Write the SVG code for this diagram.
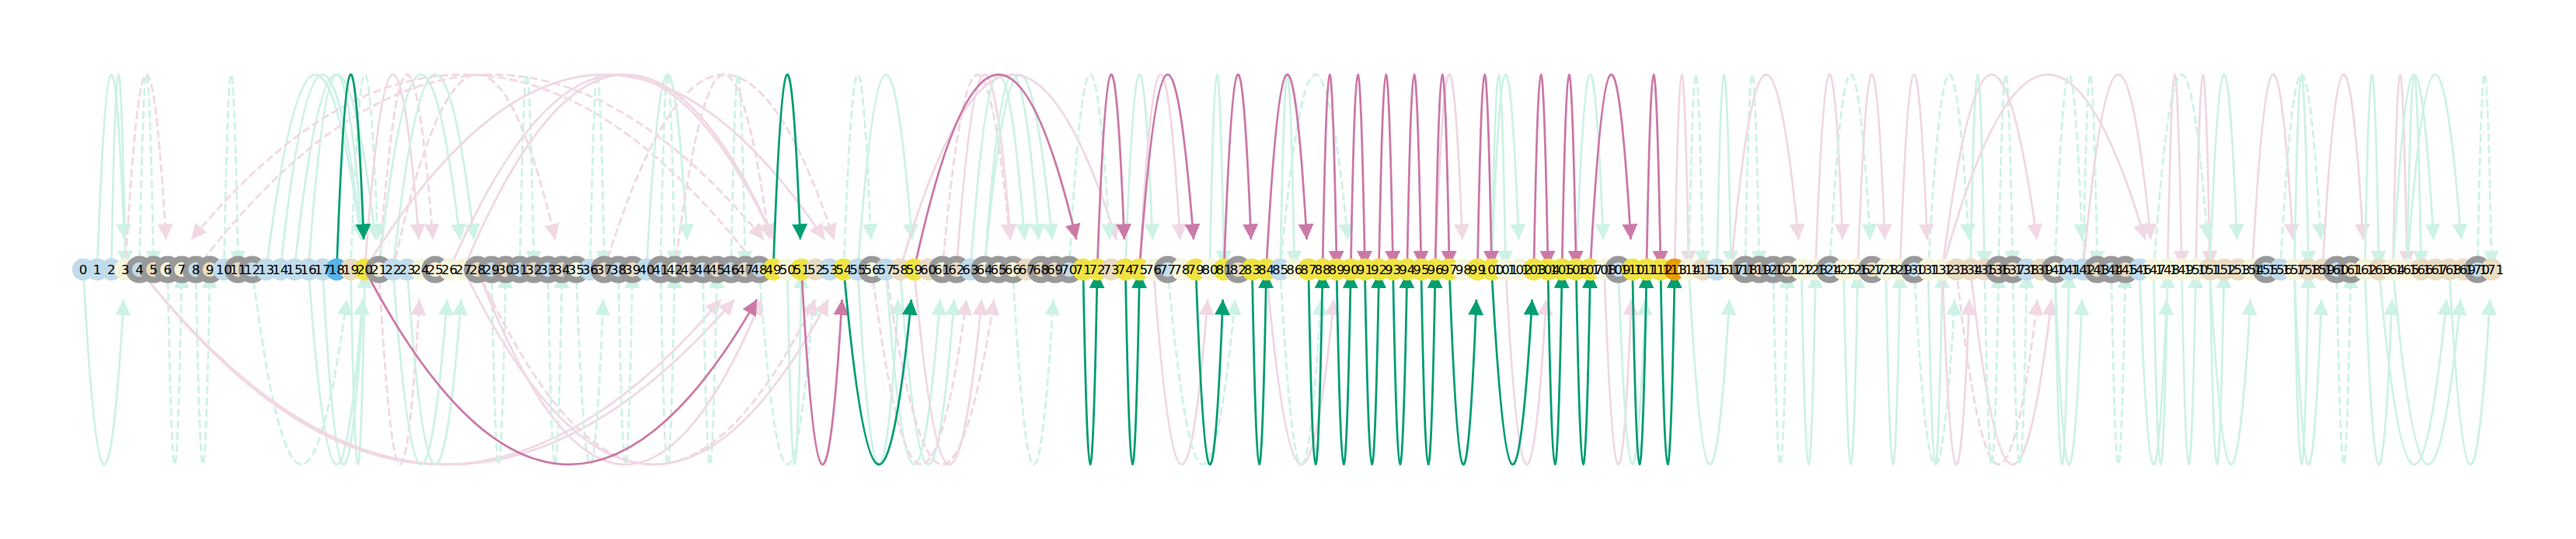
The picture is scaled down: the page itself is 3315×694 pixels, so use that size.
<svg xmlns="http://www.w3.org/2000/svg" width="3315" height="694" viewBox="0 0 3315 694">
<style>
.e{fill:none;stroke-width:2.8}
.m{stroke:#cdf2e6;marker-end:url(#am)}
.p{stroke:#f0d8e4;marker-end:url(#ap)}
.g{stroke:#009e73;marker-end:url(#ag)}
.k{stroke:#cc79a7;marker-end:url(#ak)}
.d{stroke-dasharray:10.4 4.5}
.L{fill:#c1dceb}.B{fill:#e9dcc2}.C{fill:#f5f5dc}.Y{fill:#f0e442}.S{fill:#56b4e9}.O{fill:#e69f00}
.r{stroke:#999;stroke-width:8}
text{font-family:'DejaVu Sans',sans-serif;font-size:16.67px;text-anchor:middle;fill:#000}
</style>
<defs>
<marker id="am" viewBox="0 0 20 20" refX="20" refY="10" markerWidth="20" markerHeight="20" markerUnits="userSpaceOnUse" orient="auto"><path d="M0,0L20,10L0,20z" fill="#cdf2e6"/></marker>
<marker id="ap" viewBox="0 0 20 20" refX="20" refY="10" markerWidth="20" markerHeight="20" markerUnits="userSpaceOnUse" orient="auto"><path d="M0,0L20,10L0,20z" fill="#f0d8e4"/></marker>
<marker id="ag" viewBox="0 0 20 20" refX="20" refY="10" markerWidth="20" markerHeight="20" markerUnits="userSpaceOnUse" orient="auto"><path d="M0,0L20,10L0,20z" fill="#009e73"/></marker>
<marker id="ak" viewBox="0 0 20 20" refX="20" refY="10" markerWidth="20" markerHeight="20" markerUnits="userSpaceOnUse" orient="auto"><path d="M0,0L20,10L0,20z" fill="#cc79a7"/></marker>
</defs>
<rect width="3315" height="694" fill="#fff"/>
<g id="edges">
<g id="faint-top">
<path class="e m" d="M125.1 347q17.4 -481.9 34.8 -38.6"/>
<path class="e m" d="M143.3 347q9 -500 18.1 -4"/>
<path class="e p d" d="M161.4 347q26.1 -481.9 52.2 -38.6"/>
<path class="e m d" d="M179.5 347q9 -500 18.1 -4"/>
<path class="e m d" d="M288.3 347q9 -500 18.1 -4"/>
<path class="e m" d="M342.6 347q60.9 -481.9 121.8 -38.6"/>
<path class="e m" d="M360.8 347q52.2 -481.9 104.4 -38.6"/>
<path class="e m" d="M378.9 347q52.2 -481.9 104.4 -38.6"/>
<path class="e m" d="M397 347q34.8 -481.9 69.6 -38.6"/>
<path class="e m d" d="M451.4 347q17.4 -481.9 34.8 -38.6"/>
<path class="e p" d="M469.5 347q34.8 -481.9 69.6 -38.6"/>
<path class="e p d" d="M487.6 347q34.8 -481.9 69.6 -38.6"/>
<path class="e m" d="M487.6 347q52.2 -481.9 104.4 -38.6"/>
<path class="e m" d="M505.8 347q52.2 -481.9 104.4 -38.6"/>
<path class="e p d" d="M977 347q-365.4 -481.9 -730.8 -38.6"/>
<path class="e p d" d="M252 347q365.4 -481.9 730.8 -38.6"/>
<path class="e p d" d="M505.8 347q104.4 -481.9 208.8 -38.6"/>
<path class="e m d" d="M668.9 347q9 -500 18.1 -4"/>
<path class="e m d" d="M759.5 347q9 -500 18.1 -4"/>
<path class="e m d" d="M850.1 347q9 -500 18.1 -4"/>
<path class="e m" d="M832 347q26.1 -481.9 52.2 -38.6"/>
<path class="e m d" d="M940.8 347q9 -500 18.1 -4"/>
<path class="e p d" d="M868.3 347q60.9 -481.9 121.8 -38.6"/>
<path class="e p" d="M578.3 347q208.8 -481.9 417.6 -38.6"/>
<path class="e p" d="M596.4 347q200.1 -481.9 400.2 -38.6"/>
<path class="e p" d="M469.5 347q295.8 -481.9 591.6 -38.6"/>
<path class="e p d" d="M777.6 347q147.9 -481.9 295.8 -38.6"/>
<path class="e m d" d="M1085.8 347q17.4 -481.9 34.8 -38.6"/>
<path class="e m" d="M1103.9 347q34.8 -481.9 69.6 -38.6"/>
<path class="e p" d="M1230.8 347q34.8 -481.9 69.6 -38.6"/>
<path class="e p d" d="M1212.6 347q43.5 -481.9 87 -38.6"/>
<path class="e m" d="M1248.9 347q34.8 -481.9 69.6 -38.6"/>
<path class="e m" d="M1267 347q34.8 -481.9 69.6 -38.6"/>
<path class="e m" d="M1267 347q43.5 -481.9 87 -38.6"/>
<path class="e p" d="M1158.3 347q139.2 -481.9 278.4 -38.6"/>
<path class="e m d" d="M1375.8 347q26.1 -481.9 52.2 -38.6"/>
<path class="e m" d="M1448.3 347q17.4 -481.9 34.8 -38.6"/>
<path class="e p" d="M1466.4 347q26.1 -481.9 52.2 -38.6"/>
<path class="e m" d="M1557 347q9 -500 18.1 -4"/>
<path class="e m" d="M1647.6 347q9 -500 18.1 -4"/>
<path class="e m d" d="M1647.6 347q43.5 -481.9 87 -38.6"/>
<path class="e p" d="M1847 347q17.4 -481.9 34.8 -38.6"/>
<path class="e m" d="M1919.5 347q9 -500 18.1 -4"/>
<path class="e m" d="M1919.5 347q17.4 -481.9 34.8 -38.6"/>
<path class="e m" d="M2028.3 347q17.4 -481.9 34.8 -38.6"/>
<path class="e p" d="M2155.1 347q9 -500 18.1 -4"/>
<path class="e m d" d="M2173.3 347q9 -500 18.1 -4"/>
<path class="e m" d="M2209.5 347q9 -500 18.1 -4"/>
<path class="e m d" d="M2245.8 347q9 -500 18.1 -4"/>
<path class="e p" d="M2227.6 347q43.5 -481.9 87 -38.6"/>
<path class="e p" d="M2336.4 347q17.4 -481.9 34.8 -38.6"/>
<path class="e m d" d="M2354.5 347q26.1 -481.9 52.2 -38.6"/>
<path class="e p" d="M2390.8 347q17.4 -481.9 34.8 -38.6"/>
<path class="e p" d="M2445.1 347q17.4 -481.9 34.8 -38.6"/>
<path class="e m d" d="M2481.4 347q26.1 -481.9 52.2 -38.6"/>
<path class="e m" d="M2535.8 347q9 -500 18.1 -4"/>
<path class="e p" d="M2499.5 347q60.9 -481.9 121.8 -38.6"/>
<path class="e m d" d="M2572 347q9 -500 18.1 -4"/>
<path class="e p" d="M2499.5 347q130.5 -481.9 261 -38.6"/>
<path class="e m d" d="M2644.5 347q17.4 -481.9 34.8 -38.6"/>
<path class="e m d" d="M2680.8 347q9 -500 18.1 -4"/>
<path class="e p" d="M2680.8 347q43.5 -481.9 87 -38.6"/>
<path class="e p" d="M2789.5 347q9 -500 18.1 -4"/>
<path class="e p" d="M2825.8 347q9 -500 18.1 -4"/>
<path class="e m d" d="M2771.4 347q34.8 -481.9 69.6 -38.6"/>
<path class="e m" d="M2843.9 347q17.4 -481.9 34.8 -38.6"/>
<path class="e p" d="M2898.3 347q26.1 -481.9 52.2 -38.6"/>
<path class="e m" d="M2952.6 347q9 -500 18.1 -4"/>
<path class="e m d" d="M2934.5 347q26.1 -481.9 52.2 -38.6"/>
<path class="e p" d="M2988.9 347q26.1 -481.9 52.2 -38.6"/>
<path class="e m" d="M3043.3 347q9 -500 18.1 -4"/>
<path class="e p" d="M3079.5 347q9 -500 18.1 -4"/>
<path class="e m" d="M3079.5 347q26.1 -481.9 52.2 -38.6"/>
<path class="e m" d="M3097.6 347q9 -500 18.1 -4"/>
<path class="e m" d="M3097.6 347q34.8 -481.9 69.6 -38.6"/>
<path class="e m d" d="M3188.3 347q9 -500 18.1 -4"/>
</g>
<g id="faint-bottom">
<path class="e m" d="M107 347q26.1 481.9 52.2 38.6"/>
<path class="e m d" d="M215.8 347q9 500 18.1 4"/>
<path class="e m d" d="M252 347q9 500 18.1 4"/>
<path class="e m d" d="M324.5 347q60.9 481.9 121.8 38.6"/>
<path class="e m" d="M397 347q34.8 481.9 69.6 38.6"/>
<path class="e m" d="M415.1 347q26.1 481.9 52.2 38.6"/>
<path class="e m" d="M451.4 347q9 500 18.1 4"/>
<path class="e p d" d="M487.6 347q26.1 481.9 52.2 38.6"/>
<path class="e p" d="M179.5 347q374.1 481.9 748.2 38.6"/>
<path class="e p" d="M179.5 347q382.8 481.9 765.6 38.6"/>
<path class="e m" d="M505.8 347q34.8 481.9 69.6 38.6"/>
<path class="e m" d="M523.9 347q34.8 481.9 69.6 38.6"/>
<path class="e m d" d="M632.6 347q9 500 18.1 4"/>
<path class="e m d" d="M705.1 347q9 500 18.1 4"/>
<path class="e m d" d="M795.8 347q9 500 18.1 4"/>
<path class="e m d" d="M904.5 347q9 500 18.1 4"/>
<path class="e m d" d="M850.1 347q9 500 18.1 4"/>
<path class="e m d" d="M741.4 347q17.4 481.9 34.8 38.6"/>
<path class="e m d" d="M977 347q34.8 481.9 69.6 38.6"/>
<path class="e m" d="M1013.3 347q9 500 18.1 4"/>
<path class="e p" d="M596.4 347q234.9 481.9 469.8 38.6"/>
<path class="e p d" d="M614.5 347q217.5 481.9 435 38.6"/>
<path class="e p" d="M614.5 347q182.7 481.9 365.4 38.6"/>
<path class="e m" d="M1103.9 347q26.1 481.9 52.2 38.6"/>
<path class="e m" d="M1140.1 347q34.8 481.9 69.6 38.6"/>
<path class="e m" d="M1158.3 347q34.8 481.9 69.6 38.6"/>
<path class="e p d" d="M1122 347q60.9 481.9 121.8 38.6"/>
<path class="e p" d="M1176.4 347q43.5 481.9 87 38.6"/>
<path class="e p d" d="M1140.1 347q69.6 481.9 139.2 38.6"/>
<path class="e m d" d="M1303.3 347q26.1 481.9 52.2 38.6"/>
<path class="e p" d="M1484.5 347q34.8 481.9 69.6 38.6"/>
<path class="e m d" d="M1502.6 347q43.5 481.9 87 38.6"/>
<path class="e p" d="M1629.5 347q43.5 481.9 87 38.6"/>
<path class="e m d" d="M1647.6 347q26.1 481.9 52.2 38.6"/>
<path class="e p" d="M1937.6 347q26.1 481.9 52.2 38.6"/>
<path class="e p" d="M2064.5 347q17.4 481.9 34.8 38.6"/>
<path class="e m" d="M2082.6 347q17.4 481.9 34.8 38.6"/>
<path class="e m" d="M2173.3 347q26.1 481.9 52.2 38.6"/>
<path class="e m d" d="M2282 347q9 500 18.1 4"/>
<path class="e m" d="M2318.3 347q9 500 18.1 4"/>
<path class="e m" d="M2372.6 347q9 500 18.1 4"/>
<path class="e m" d="M2427 347q9 500 18.1 4"/>
<path class="e m" d="M2481.4 347q9 500 18.1 4"/>
<path class="e m d" d="M2463.3 347q26.1 481.9 52.2 38.6"/>
<path class="e p" d="M2499.5 347q17.4 481.9 34.8 38.6"/>
<path class="e p d" d="M2517.6 347q52.2 481.9 104.4 38.6"/>
<path class="e p" d="M2535.8 347q52.2 481.9 104.4 38.6"/>
<path class="e m d" d="M2553.9 347q9 500 18.1 4"/>
<path class="e m d" d="M2590.1 347q9 500 18.1 4"/>
<path class="e m" d="M2644.5 347q9 500 18.1 4"/>
<path class="e m" d="M2644.5 347q17.4 481.9 34.8 38.6"/>
<path class="e m d" d="M2717 347q9 500 18.1 4"/>
<path class="e m" d="M2771.4 347q9 500 18.1 4"/>
<path class="e m" d="M2753.3 347q17.4 481.9 34.8 38.6"/>
<path class="e m" d="M2807.6 347q9 500 18.1 4"/>
<path class="e m" d="M2843.9 347q9 500 18.1 4"/>
<path class="e m" d="M2843.9 347q26.1 481.9 52.2 38.6"/>
<path class="e m" d="M2952.6 347q9 500 18.1 4"/>
<path class="e m" d="M2952.6 347q17.4 481.9 34.8 38.6"/>
<path class="e m d" d="M3007 347q9 500 18.1 4"/>
<path class="e m" d="M3043.3 347q17.4 481.9 34.8 38.6"/>
<path class="e m" d="M3061.4 347q43.5 481.9 87 38.6"/>
<path class="e m" d="M3079.5 347q43.5 481.9 87 38.6"/>
<path class="e m" d="M3152 347q26.1 481.9 52.2 38.6"/>
</g>
<g id="strong">
<path class="e g" d="M433.3 347q17.4 -481.9 34.8 -38.6"/>
<path class="e g" d="M995.1 347q17.4 -481.9 34.8 -38.6"/>
<path class="e k" d="M1176.4 347q104.4 -481.9 208.8 -38.6"/>
<path class="e k" d="M1412 347q17.4 -481.9 34.8 -38.6"/>
<path class="e k" d="M1466.4 347q34.8 -481.9 69.6 -38.6"/>
<path class="e k" d="M1575.1 347q17.4 -481.9 34.8 -38.6"/>
<path class="e k" d="M1629.5 347q26.1 -481.9 52.2 -38.6"/>
<path class="e k" d="M1702 347q9 -500 18.1 -4"/>
<path class="e k" d="M1738.3 347q9 -500 18.1 -4"/>
<path class="e k" d="M1774.5 347q9 -500 18.1 -4"/>
<path class="e k" d="M1810.8 347q9 -500 18.1 -4"/>
<path class="e k" d="M1847 347q9 -500 18.1 -4"/>
<path class="e k" d="M1901.4 347q9 -500 18.1 -4"/>
<path class="e k" d="M1973.9 347q9 -500 18.1 -4"/>
<path class="e k" d="M2010.1 347q9 -500 18.1 -4"/>
<path class="e k" d="M2046.4 347q26.1 -481.9 52.2 -38.6"/>
<path class="e k" d="M2118.9 347q9 -500 18.1 -4"/>
<path class="e k" d="M469.5 347q252.3 481.9 504.6 38.6"/>
<path class="e k" d="M1031.4 347q26.1 481.9 52.2 38.6"/>
<path class="e g" d="M1085.8 347q43.5 481.9 87 38.6"/>
<path class="e g" d="M1393.9 347q9 500 18.1 4"/>
<path class="e g" d="M1448.3 347q9 500 18.1 4"/>
<path class="e g" d="M1538.9 347q17.4 481.9 34.8 38.6"/>
<path class="e g" d="M1611.4 347q9 500 18.1 4"/>
<path class="e g" d="M1683.9 347q9 500 18.1 4"/>
<path class="e g" d="M1720.1 347q9 500 18.1 4"/>
<path class="e g" d="M1756.4 347q9 500 18.1 4"/>
<path class="e g" d="M1792.6 347q9 500 18.1 4"/>
<path class="e g" d="M1828.9 347q9 500 18.1 4"/>
<path class="e g" d="M1865.1 347q17.4 481.9 34.8 38.6"/>
<path class="e g" d="M1919.5 347q26.1 481.9 52.2 38.6"/>
<path class="e g" d="M1992 347q9 500 18.1 4"/>
<path class="e g" d="M2028.3 347q9 500 18.1 4"/>
<path class="e g" d="M2100.8 347q9 500 18.1 4"/>
<path class="e g" d="M2137 347q9 500 18.1 4"/>
</g>
</g>
<g id="nodes">
<g id="n0"><circle class="L" cx="107" cy="347" r="14.2"/></g>
<g id="n1"><circle class="L" cx="125.1" cy="347" r="14.2"/></g>
<g id="n2"><circle class="L" cx="143.3" cy="347" r="14.2"/></g>
<g id="n3"><circle class="C" cx="161.4" cy="347" r="14.2"/></g>
<g id="n4"><circle class="L r" cx="179.5" cy="347" r="13.6"/></g>
<g id="n5"><circle class="B r" cx="197.6" cy="347" r="13.6"/></g>
<g id="n6"><circle class="C r" cx="215.8" cy="347" r="13.6"/></g>
<g id="n7"><circle class="C r" cx="233.9" cy="347" r="13.6"/></g>
<g id="n8"><circle class="L r" cx="252" cy="347" r="13.6"/></g>
<g id="n9"><circle class="B r" cx="270.1" cy="347" r="13.6"/></g>
<g id="n10"><circle class="L" cx="288.3" cy="347" r="14.2"/></g>
<g id="n11"><circle class="B r" cx="306.4" cy="347" r="13.6"/></g>
<g id="n12"><circle class="L r" cx="324.5" cy="347" r="13.6"/></g>
<g id="n13"><circle class="L" cx="342.6" cy="347" r="14.2"/></g>
<g id="n14"><circle class="L" cx="360.8" cy="347" r="14.2"/></g>
<g id="n15"><circle class="L" cx="378.9" cy="347" r="14.2"/></g>
<g id="n16"><circle class="L" cx="397" cy="347" r="14.2"/></g>
<g id="n17"><circle class="L" cx="415.1" cy="347" r="14.2"/></g>
<g id="n18"><circle class="S" cx="433.3" cy="347" r="14.2"/></g>
<g id="n19"><circle class="B" cx="451.4" cy="347" r="14.2"/></g>
<g id="n20"><circle class="Y" cx="469.5" cy="347" r="14.2"/></g>
<g id="n21"><circle class="C r" cx="487.6" cy="347" r="13.6"/></g>
<g id="n22"><circle class="L" cx="505.8" cy="347" r="14.2"/></g>
<g id="n23"><circle class="L" cx="523.9" cy="347" r="14.2"/></g>
<g id="n24"><circle class="C" cx="542" cy="347" r="14.2"/></g>
<g id="n25"><circle class="C r" cx="560.1" cy="347" r="13.6"/></g>
<g id="n26"><circle class="C" cx="578.3" cy="347" r="14.2"/></g>
<g id="n27"><circle class="C" cx="596.4" cy="347" r="14.2"/></g>
<g id="n28"><circle class="B r" cx="614.5" cy="347" r="13.6"/></g>
<g id="n29"><circle class="L r" cx="632.6" cy="347" r="13.6"/></g>
<g id="n30"><circle class="B r" cx="650.8" cy="347" r="13.6"/></g>
<g id="n31"><circle class="L r" cx="668.9" cy="347" r="13.6"/></g>
<g id="n32"><circle class="B r" cx="687" cy="347" r="13.6"/></g>
<g id="n33"><circle class="L r" cx="705.1" cy="347" r="13.6"/></g>
<g id="n34"><circle class="B r" cx="723.3" cy="347" r="13.6"/></g>
<g id="n35"><circle class="C r" cx="741.4" cy="347" r="13.6"/></g>
<g id="n36"><circle class="L" cx="759.5" cy="347" r="14.2"/></g>
<g id="n37"><circle class="B r" cx="777.6" cy="347" r="13.6"/></g>
<g id="n38"><circle class="L r" cx="795.8" cy="347" r="13.6"/></g>
<g id="n39"><circle class="B r" cx="813.9" cy="347" r="13.6"/></g>
<g id="n40"><circle class="L" cx="832" cy="347" r="14.2"/></g>
<g id="n41"><circle class="L r" cx="850.1" cy="347" r="13.6"/></g>
<g id="n42"><circle class="C r" cx="868.3" cy="347" r="13.6"/></g>
<g id="n43"><circle class="B r" cx="886.4" cy="347" r="13.6"/></g>
<g id="n44"><circle class="L r" cx="904.5" cy="347" r="13.6"/></g>
<g id="n45"><circle class="B r" cx="922.6" cy="347" r="13.6"/></g>
<g id="n46"><circle class="L r" cx="940.8" cy="347" r="13.6"/></g>
<g id="n47"><circle class="B r" cx="958.9" cy="347" r="13.6"/></g>
<g id="n48"><circle class="L r" cx="977" cy="347" r="13.6"/></g>
<g id="n49"><circle class="Y" cx="995.1" cy="347" r="14.2"/></g>
<g id="n50"><circle class="C" cx="1013.3" cy="347" r="14.2"/></g>
<g id="n51"><circle class="Y" cx="1031.4" cy="347" r="14.2"/></g>
<g id="n52"><circle class="B" cx="1049.5" cy="347" r="14.2"/></g>
<g id="n53"><circle class="L" cx="1067.6" cy="347" r="14.2"/></g>
<g id="n54"><circle class="Y" cx="1085.8" cy="347" r="14.2"/></g>
<g id="n55"><circle class="L" cx="1103.9" cy="347" r="14.2"/></g>
<g id="n56"><circle class="C r" cx="1122" cy="347" r="13.6"/></g>
<g id="n57"><circle class="L" cx="1140.1" cy="347" r="14.2"/></g>
<g id="n58"><circle class="B" cx="1158.3" cy="347" r="14.2"/></g>
<g id="n59"><circle class="Y" cx="1176.4" cy="347" r="14.2"/></g>
<g id="n60"><circle class="B" cx="1194.5" cy="347" r="14.2"/></g>
<g id="n61"><circle class="C r" cx="1212.6" cy="347" r="13.6"/></g>
<g id="n62"><circle class="B r" cx="1230.8" cy="347" r="13.6"/></g>
<g id="n63"><circle class="L" cx="1248.9" cy="347" r="14.2"/></g>
<g id="n64"><circle class="C r" cx="1267" cy="347" r="13.6"/></g>
<g id="n65"><circle class="C r" cx="1285.1" cy="347" r="13.6"/></g>
<g id="n66"><circle class="C r" cx="1303.3" cy="347" r="13.6"/></g>
<g id="n67"><circle class="B" cx="1321.4" cy="347" r="14.2"/></g>
<g id="n68"><circle class="B r" cx="1339.5" cy="347" r="13.6"/></g>
<g id="n69"><circle class="B r" cx="1357.6" cy="347" r="13.6"/></g>
<g id="n70"><circle class="L r" cx="1375.8" cy="347" r="13.6"/></g>
<g id="n71"><circle class="Y" cx="1393.9" cy="347" r="14.2"/></g>
<g id="n72"><circle class="Y" cx="1412" cy="347" r="14.2"/></g>
<g id="n73"><circle class="B" cx="1430.1" cy="347" r="14.2"/></g>
<g id="n74"><circle class="Y" cx="1448.3" cy="347" r="14.2"/></g>
<g id="n75"><circle class="Y" cx="1466.4" cy="347" r="14.2"/></g>
<g id="n76"><circle class="C" cx="1484.5" cy="347" r="14.2"/></g>
<g id="n77"><circle class="L r" cx="1502.6" cy="347" r="13.6"/></g>
<g id="n78"><circle class="C" cx="1520.8" cy="347" r="14.2"/></g>
<g id="n79"><circle class="Y" cx="1538.9" cy="347" r="14.2"/></g>
<g id="n80"><circle class="C" cx="1557" cy="347" r="14.2"/></g>
<g id="n81"><circle class="Y" cx="1575.1" cy="347" r="14.2"/></g>
<g id="n82"><circle class="B r" cx="1593.3" cy="347" r="13.6"/></g>
<g id="n83"><circle class="Y" cx="1611.4" cy="347" r="14.2"/></g>
<g id="n84"><circle class="Y" cx="1629.5" cy="347" r="14.2"/></g>
<g id="n85"><circle class="L" cx="1647.6" cy="347" r="14.2"/></g>
<g id="n86"><circle class="C" cx="1665.8" cy="347" r="14.2"/></g>
<g id="n87"><circle class="Y" cx="1683.9" cy="347" r="14.2"/></g>
<g id="n88"><circle class="Y" cx="1702" cy="347" r="14.2"/></g>
<g id="n89"><circle class="Y" cx="1720.1" cy="347" r="14.2"/></g>
<g id="n90"><circle class="Y" cx="1738.3" cy="347" r="14.2"/></g>
<g id="n91"><circle class="Y" cx="1756.4" cy="347" r="14.2"/></g>
<g id="n92"><circle class="Y" cx="1774.5" cy="347" r="14.2"/></g>
<g id="n93"><circle class="Y" cx="1792.6" cy="347" r="14.2"/></g>
<g id="n94"><circle class="Y" cx="1810.8" cy="347" r="14.2"/></g>
<g id="n95"><circle class="Y" cx="1828.9" cy="347" r="14.2"/></g>
<g id="n96"><circle class="Y" cx="1847" cy="347" r="14.2"/></g>
<g id="n97"><circle class="Y" cx="1865.1" cy="347" r="14.2"/></g>
<g id="n98"><circle class="C" cx="1883.3" cy="347" r="14.2"/></g>
<g id="n99"><circle class="Y" cx="1901.4" cy="347" r="14.2"/></g>
<g id="n100"><circle class="Y" cx="1919.5" cy="347" r="14.2"/></g>
<g id="n101"><circle class="C" cx="1937.6" cy="347" r="14.2"/></g>
<g id="n102"><circle class="C" cx="1955.8" cy="347" r="14.2"/></g>
<g id="n103"><circle class="Y" cx="1973.9" cy="347" r="14.2"/></g>
<g id="n104"><circle class="Y" cx="1992" cy="347" r="14.2"/></g>
<g id="n105"><circle class="Y" cx="2010.1" cy="347" r="14.2"/></g>
<g id="n106"><circle class="Y" cx="2028.3" cy="347" r="14.2"/></g>
<g id="n107"><circle class="Y" cx="2046.4" cy="347" r="14.2"/></g>
<g id="n108"><circle class="C" cx="2064.5" cy="347" r="14.2"/></g>
<g id="n109"><circle class="L r" cx="2082.6" cy="347" r="13.6"/></g>
<g id="n110"><circle class="Y" cx="2100.8" cy="347" r="14.2"/></g>
<g id="n111"><circle class="Y" cx="2118.9" cy="347" r="14.2"/></g>
<g id="n112"><circle class="Y" cx="2137" cy="347" r="14.2"/></g>
<g id="n113"><circle class="O" cx="2155.1" cy="347" r="14.2"/></g>
<g id="n114"><circle class="C" cx="2173.3" cy="347" r="14.2"/></g>
<g id="n115"><circle class="B" cx="2191.4" cy="347" r="14.2"/></g>
<g id="n116"><circle class="L" cx="2209.5" cy="347" r="14.2"/></g>
<g id="n117"><circle class="C" cx="2227.6" cy="347" r="14.2"/></g>
<g id="n118"><circle class="L r" cx="2245.8" cy="347" r="13.6"/></g>
<g id="n119"><circle class="B r" cx="2263.9" cy="347" r="13.6"/></g>
<g id="n120"><circle class="L r" cx="2282" cy="347" r="13.6"/></g>
<g id="n121"><circle class="B r" cx="2300.1" cy="347" r="13.6"/></g>
<g id="n122"><circle class="C" cx="2318.3" cy="347" r="14.2"/></g>
<g id="n123"><circle class="C" cx="2336.4" cy="347" r="14.2"/></g>
<g id="n124"><circle class="L r" cx="2354.5" cy="347" r="13.6"/></g>
<g id="n125"><circle class="C" cx="2372.6" cy="347" r="14.2"/></g>
<g id="n126"><circle class="C" cx="2390.8" cy="347" r="14.2"/></g>
<g id="n127"><circle class="B r" cx="2408.9" cy="347" r="13.6"/></g>
<g id="n128"><circle class="C" cx="2427" cy="347" r="14.2"/></g>
<g id="n129"><circle class="C" cx="2445.1" cy="347" r="14.2"/></g>
<g id="n130"><circle class="L r" cx="2463.3" cy="347" r="13.6"/></g>
<g id="n131"><circle class="C" cx="2481.4" cy="347" r="14.2"/></g>
<g id="n132"><circle class="C" cx="2499.5" cy="347" r="14.2"/></g>
<g id="n133"><circle class="B" cx="2517.6" cy="347" r="14.2"/></g>
<g id="n134"><circle class="B" cx="2535.8" cy="347" r="14.2"/></g>
<g id="n135"><circle class="B" cx="2553.9" cy="347" r="14.2"/></g>
<g id="n136"><circle class="B r" cx="2572" cy="347" r="13.6"/></g>
<g id="n137"><circle class="B r" cx="2590.1" cy="347" r="13.6"/></g>
<g id="n138"><circle class="L" cx="2608.3" cy="347" r="14.2"/></g>
<g id="n139"><circle class="B" cx="2626.4" cy="347" r="14.2"/></g>
<g id="n140"><circle class="C r" cx="2644.5" cy="347" r="13.6"/></g>
<g id="n141"><circle class="L" cx="2662.6" cy="347" r="14.2"/></g>
<g id="n142"><circle class="L" cx="2680.8" cy="347" r="14.2"/></g>
<g id="n143"><circle class="B r" cx="2698.9" cy="347" r="13.6"/></g>
<g id="n144"><circle class="L r" cx="2717" cy="347" r="13.6"/></g>
<g id="n145"><circle class="B r" cx="2735.1" cy="347" r="13.6"/></g>
<g id="n146"><circle class="L" cx="2753.3" cy="347" r="14.2"/></g>
<g id="n147"><circle class="C" cx="2771.4" cy="347" r="14.2"/></g>
<g id="n148"><circle class="C" cx="2789.5" cy="347" r="14.2"/></g>
<g id="n149"><circle class="C" cx="2807.6" cy="347" r="14.2"/></g>
<g id="n150"><circle class="C" cx="2825.8" cy="347" r="14.2"/></g>
<g id="n151"><circle class="B" cx="2843.9" cy="347" r="14.2"/></g>
<g id="n152"><circle class="B" cx="2862" cy="347" r="14.2"/></g>
<g id="n153"><circle class="B" cx="2880.1" cy="347" r="14.2"/></g>
<g id="n154"><circle class="C" cx="2898.3" cy="347" r="14.2"/></g>
<g id="n155"><circle class="L r" cx="2916.4" cy="347" r="13.6"/></g>
<g id="n156"><circle class="L" cx="2934.5" cy="347" r="14.2"/></g>
<g id="n157"><circle class="C" cx="2952.6" cy="347" r="14.2"/></g>
<g id="n158"><circle class="B" cx="2970.8" cy="347" r="14.2"/></g>
<g id="n159"><circle class="B" cx="2988.9" cy="347" r="14.2"/></g>
<g id="n160"><circle class="L r" cx="3007" cy="347" r="13.6"/></g>
<g id="n161"><circle class="B r" cx="3025.1" cy="347" r="13.6"/></g>
<g id="n162"><circle class="C" cx="3043.3" cy="347" r="14.2"/></g>
<g id="n163"><circle class="B" cx="3061.4" cy="347" r="14.2"/></g>
<g id="n164"><circle class="C" cx="3079.5" cy="347" r="14.2"/></g>
<g id="n165"><circle class="C" cx="3097.6" cy="347" r="14.2"/></g>
<g id="n166"><circle class="B" cx="3115.8" cy="347" r="14.2"/></g>
<g id="n167"><circle class="B" cx="3133.9" cy="347" r="14.2"/></g>
<g id="n168"><circle class="B" cx="3152" cy="347" r="14.2"/></g>
<g id="n169"><circle class="B" cx="3170.1" cy="347" r="14.2"/></g>
<g id="n170"><circle class="L r" cx="3188.3" cy="347" r="13.6"/></g>
<g id="n171"><circle class="B" cx="3206.4" cy="347" r="14.2"/></g>
</g>
<g id="labels">
<text x="107" y="353">0</text><text x="125.1" y="353">1</text><text x="143.3" y="353">2</text><text x="161.4" y="353">3</text><text x="179.5" y="353">4</text><text x="197.6" y="353">5</text><text x="215.8" y="353">6</text><text x="233.9" y="353">7</text><text x="252" y="353">8</text><text x="270.1" y="353">9</text>
<text x="288.3" y="353">10</text><text x="306.4" y="353">11</text><text x="324.5" y="353">12</text><text x="342.6" y="353">13</text><text x="360.8" y="353">14</text><text x="378.9" y="353">15</text><text x="397" y="353">16</text><text x="415.1" y="353">17</text><text x="433.3" y="353">18</text><text x="451.4" y="353">19</text>
<text x="469.5" y="353">20</text><text x="487.6" y="353">21</text><text x="505.8" y="353">22</text><text x="523.9" y="353">23</text><text x="542" y="353">24</text><text x="560.1" y="353">25</text><text x="578.3" y="353">26</text><text x="596.4" y="353">27</text><text x="614.5" y="353">28</text><text x="632.6" y="353">29</text>
<text x="650.8" y="353">30</text><text x="668.9" y="353">31</text><text x="687" y="353">32</text><text x="705.1" y="353">33</text><text x="723.3" y="353">34</text><text x="741.4" y="353">35</text><text x="759.5" y="353">36</text><text x="777.6" y="353">37</text><text x="795.8" y="353">38</text><text x="813.9" y="353">39</text>
<text x="832" y="353">40</text><text x="850.1" y="353">41</text><text x="868.3" y="353">42</text><text x="886.4" y="353">43</text><text x="904.5" y="353">44</text><text x="922.6" y="353">45</text><text x="940.8" y="353">46</text><text x="958.9" y="353">47</text><text x="977" y="353">48</text><text x="995.1" y="353">49</text>
<text x="1013.3" y="353">50</text><text x="1031.4" y="353">51</text><text x="1049.5" y="353">52</text><text x="1067.6" y="353">53</text><text x="1085.8" y="353">54</text><text x="1103.9" y="353">55</text><text x="1122" y="353">56</text><text x="1140.1" y="353">57</text><text x="1158.3" y="353">58</text><text x="1176.4" y="353">59</text>
<text x="1194.5" y="353">60</text><text x="1212.6" y="353">61</text><text x="1230.8" y="353">62</text><text x="1248.9" y="353">63</text><text x="1267" y="353">64</text><text x="1285.1" y="353">65</text><text x="1303.3" y="353">66</text><text x="1321.4" y="353">67</text><text x="1339.5" y="353">68</text><text x="1357.6" y="353">69</text>
<text x="1375.8" y="353">70</text><text x="1393.9" y="353">71</text><text x="1412" y="353">72</text><text x="1430.1" y="353">73</text><text x="1448.3" y="353">74</text><text x="1466.4" y="353">75</text><text x="1484.5" y="353">76</text><text x="1502.6" y="353">77</text><text x="1520.8" y="353">78</text><text x="1538.9" y="353">79</text>
<text x="1557" y="353">80</text><text x="1575.1" y="353">81</text><text x="1593.3" y="353">82</text><text x="1611.4" y="353">83</text><text x="1629.5" y="353">84</text><text x="1647.6" y="353">85</text><text x="1665.8" y="353">86</text><text x="1683.9" y="353">87</text><text x="1702" y="353">88</text><text x="1720.1" y="353">89</text>
<text x="1738.3" y="353">90</text><text x="1756.4" y="353">91</text><text x="1774.5" y="353">92</text><text x="1792.6" y="353">93</text><text x="1810.8" y="353">94</text><text x="1828.9" y="353">95</text><text x="1847" y="353">96</text><text x="1865.1" y="353">97</text><text x="1883.3" y="353">98</text><text x="1901.4" y="353">99</text>
<text x="1919.5" y="353">100</text><text x="1937.6" y="353">101</text><text x="1955.8" y="353">102</text><text x="1973.9" y="353">103</text><text x="1992" y="353">104</text><text x="2010.1" y="353">105</text><text x="2028.3" y="353">106</text><text x="2046.4" y="353">107</text><text x="2064.5" y="353">108</text><text x="2082.6" y="353">109</text>
<text x="2100.8" y="353">110</text><text x="2118.9" y="353">111</text><text x="2137" y="353">112</text><text x="2155.1" y="353">113</text><text x="2173.3" y="353">114</text><text x="2191.4" y="353">115</text><text x="2209.5" y="353">116</text><text x="2227.6" y="353">117</text><text x="2245.8" y="353">118</text><text x="2263.9" y="353">119</text>
<text x="2282" y="353">120</text><text x="2300.1" y="353">121</text><text x="2318.3" y="353">122</text><text x="2336.4" y="353">123</text><text x="2354.5" y="353">124</text><text x="2372.6" y="353">125</text><text x="2390.8" y="353">126</text><text x="2408.9" y="353">127</text><text x="2427" y="353">128</text><text x="2445.1" y="353">129</text>
<text x="2463.3" y="353">130</text><text x="2481.4" y="353">131</text><text x="2499.5" y="353">132</text><text x="2517.6" y="353">133</text><text x="2535.8" y="353">134</text><text x="2553.9" y="353">135</text><text x="2572" y="353">136</text><text x="2590.1" y="353">137</text><text x="2608.3" y="353">138</text><text x="2626.4" y="353">139</text>
<text x="2644.5" y="353">140</text><text x="2662.6" y="353">141</text><text x="2680.8" y="353">142</text><text x="2698.9" y="353">143</text><text x="2717" y="353">144</text><text x="2735.1" y="353">145</text><text x="2753.3" y="353">146</text><text x="2771.4" y="353">147</text><text x="2789.5" y="353">148</text><text x="2807.6" y="353">149</text>
<text x="2825.8" y="353">150</text><text x="2843.9" y="353">151</text><text x="2862" y="353">152</text><text x="2880.1" y="353">153</text><text x="2898.3" y="353">154</text><text x="2916.4" y="353">155</text><text x="2934.5" y="353">156</text><text x="2952.6" y="353">157</text><text x="2970.8" y="353">158</text><text x="2988.9" y="353">159</text>
<text x="3007" y="353">160</text><text x="3025.1" y="353">161</text><text x="3043.3" y="353">162</text><text x="3061.4" y="353">163</text><text x="3079.5" y="353">164</text><text x="3097.6" y="353">165</text><text x="3115.8" y="353">166</text><text x="3133.9" y="353">167</text><text x="3152" y="353">168</text><text x="3170.1" y="353">169</text>
<text x="3188.3" y="353">170</text><text x="3206.4" y="353">171</text>
</g>
</svg>
